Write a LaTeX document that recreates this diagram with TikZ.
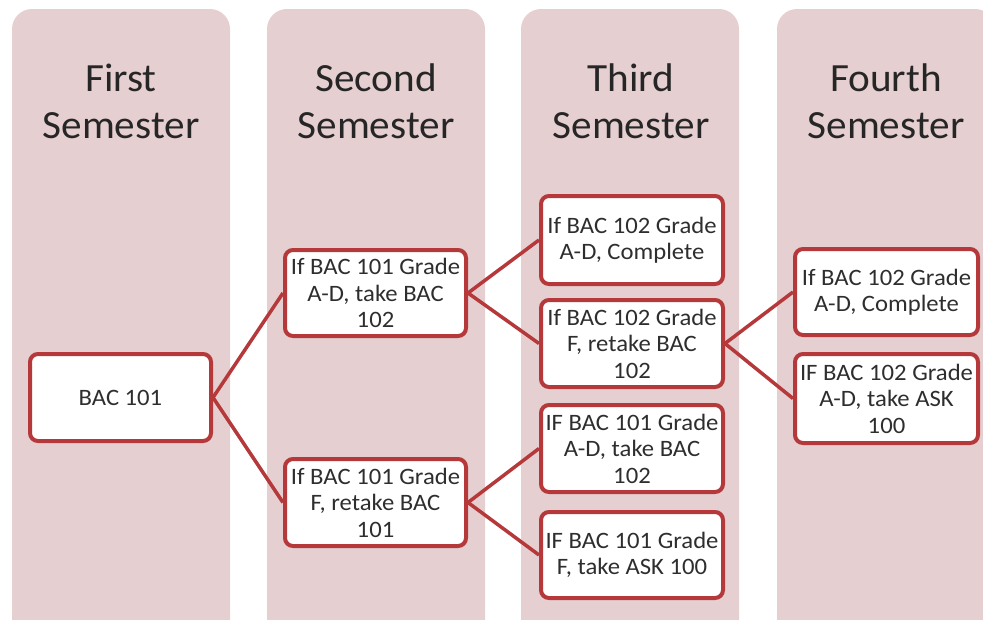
\documentclass[tikz,border=0pt]{standalone}
\usepackage{fontspec}
\setmainfont{Carlito}[FakeStretch=1.03]
\newfontfamily\boxfont{Carlito}[FakeStretch=1.05]
\definecolor{colfill}{HTML}{E6CFD0}
\definecolor{boxred}{HTML}{B5393B}
\definecolor{headtxt}{HTML}{262626}
\definecolor{boxtxt}{HTML}{2E2E2E}
\tikzset{
  column/.style={fill=colfill, draw=none, rounded corners=20pt},
  heading/.style={text=headtxt, align=center, font=\fontsize{40}{47}\selectfont},
  stepbox/.style={draw=boxred, line width=4pt, fill=white, rounded corners=8pt,
    align=center, text=boxtxt, inner sep=0pt, font=\boxfont\fontsize{23.5}{26.5}\selectfont},
  link/.style={draw=boxred, line width=3.5pt}
}
\begin{document}
\begin{tikzpicture}[x=1pt,y=-1pt]
\useasboundingbox (0,0) rectangle (983,619);
\clip (0,0) rectangle (983,619);
% columns
\path[column] (12,9) rectangle (230,640);
\path[column] (267,9) rectangle (485,640);
\path[column] (521,9) rectangle (739,640);
\path[column] (777,9) rectangle (995,640);
% headings
\node[heading] (h1) at (121,101) {First\\Semester};
\node[heading] (h2) at (376,101) {Second\\Semester};
\node[heading] (h3) at (631,101) {Third\\Semester};
\node[heading] (h4) at (886,101) {Fourth\\Semester};
% boxes
\node[stepbox, minimum width=181pt, minimum height=87pt] (b1) at (120.5,397.5) {BAC 101};
\node[stepbox, minimum width=181pt, minimum height=86pt] (s1) at (375.5,293) {If BAC 101 Grade\\A-D, take BAC\\102};
\node[stepbox, minimum width=181pt, minimum height=87pt] (s2) at (375.5,502.5) {If BAC 101 Grade\\F, retake BAC\\101};
\node[stepbox, minimum width=182pt, minimum height=88pt] (t1) at (632,240) {If BAC 102 Grade\\A-D, Complete};
\node[stepbox, minimum width=182pt, minimum height=87pt] (t2) at (632,343.5) {If BAC 102 Grade\\F, retake BAC\\102};
\node[stepbox, minimum width=182pt, minimum height=87pt] (t3) at (632,448.5) {IF BAC 101 Grade\\A-D, take BAC\\102};
\node[stepbox, minimum width=182pt, minimum height=86pt] (t4) at (632,555) {IF BAC 101 Grade\\F, take ASK 100};
\node[stepbox, minimum width=183pt, minimum height=86pt] (f1) at (886.5,292) {If BAC 102 Grade\\A-D, Complete};
\node[stepbox, minimum width=183pt, minimum height=89pt] (f2) at (886.5,398.5) {IF BAC 102 Grade\\A-D, take ASK\\100};
% connectors
\path[link] (b1.east) -- (s1.west);
\path[link] (b1.east) -- (s2.west);
\path[link] (s1.east) -- (t1.west);
\path[link] (s1.east) -- (t2.west);
\path[link] (s2.east) -- (t3.west);
\path[link] (s2.east) -- (t4.west);
\path[link] (t2.east) -- (f1.west);
\path[link] (t2.east) -- (f2.west);
\end{tikzpicture}
\end{document}
